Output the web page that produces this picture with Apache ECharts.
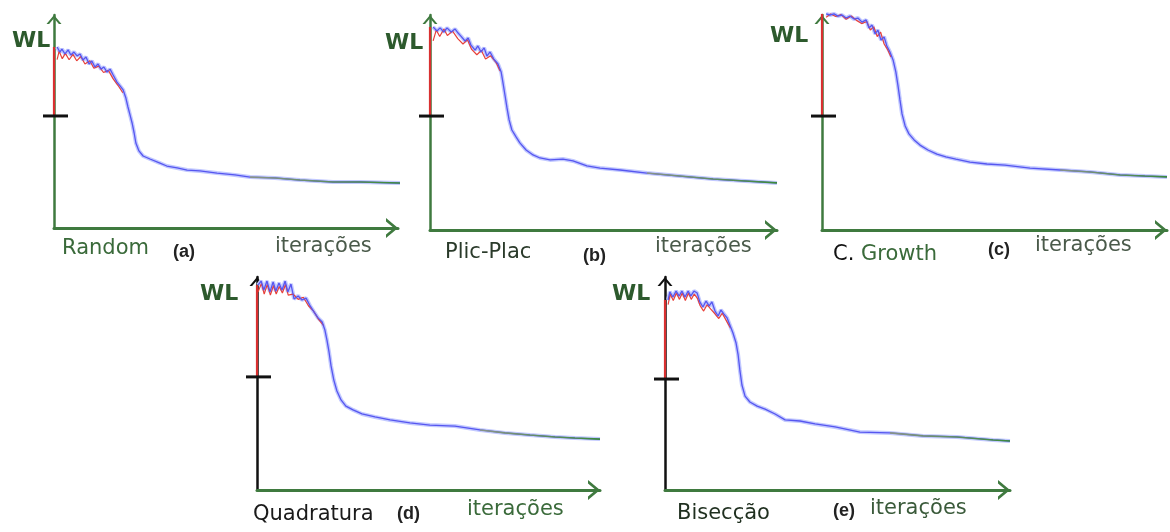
<!DOCTYPE html>
<html>
<head>
<meta charset="utf-8">
<script src="https://cdn.jsdelivr.net/npm/echarts@6/dist/echarts.min.js"></script>
<style>
html, body { margin: 0; background: #fff; }
#chart { width: 1170px; height: 532px; }
</style>
</head>
<body>
<div id="chart"></div>
<script>
// WL curves, x = iterations (0-100), y = WL (0-100)
var curveA = [[0.9,85.0],[1.7,82.6],[2.3,84.0],[3.2,81.7],[4.1,83.6],[4.9,81.2],[5.8,82.6],[6.7,80.8],[7.6,81.7],[8.4,78.9],[9.3,80.3],[10.2,77.0],[11.0,78.4],[11.9,75.6],[12.8,77.0],[13.7,74.6],[14.5,75.6],[15.4,73.2],[16.3,74.6],[17.2,71.8],[18.3,68.5],[19.2,66.7],[20.1,64.8],[20.9,61.0],[21.5,56.8],[22.1,53.1],[22.7,49.3],[23.3,44.6],[23.8,39.9],[24.7,36.2],[25.9,33.8],[27.9,32.4],[30.8,30.5],[32.8,29.1],[35.8,28.2],[38.7,27.2],[42.4,26.8],[47.4,25.8],[52.6,24.9],[57.0,23.9],[64.2,23.5],[71.5,22.5],[81.1,21.6],[89.0,21.6],[100.6,21.1]];
var curveB = [[0.9,94.4],[2.0,92.6],[2.9,94.0],[4.0,92.1],[4.9,94.0],[6.1,92.1],[7.2,93.5],[8.1,91.6],[8.9,90.2],[10.1,87.9],[11.0,89.3],[11.8,86.0],[13.0,83.7],[13.8,85.6],[14.7,82.8],[15.6,84.7],[16.4,80.9],[17.3,82.8],[18.4,79.5],[19.6,77.2],[20.5,73.5],[21.0,68.8],[21.6,62.8],[22.2,56.7],[22.8,51.2],[23.6,46.5],[24.8,43.3],[25.9,40.5],[27.7,37.2],[29.7,34.9],[31.7,33.5],[34.6,32.6],[38.3,33.0],[41.2,32.1],[45.2,29.8],[49.0,28.8],[54.8,27.9],[62.5,26.5],[72.0,25.1],[81.6,23.7],[90.8,22.8],[100.0,21.9]];
var curveC = [[1.2,100.5],[2.3,100.0],[3.5,100.5],[4.6,99.5],[5.8,100.0],[7.0,98.6],[8.1,99.5],[9.3,98.1],[10.4,98.6],[11.6,96.7],[12.8,97.7],[13.6,94.0],[14.5,95.3],[15.4,91.2],[16.2,93.0],[17.1,88.4],[18.0,89.8],[18.8,85.6],[19.7,82.8],[20.6,79.1],[21.4,73.5],[22.0,67.4],[22.6,60.5],[23.2,54.0],[24.1,48.4],[25.2,44.7],[26.7,41.9],[28.4,39.5],[30.7,37.2],[33.3,35.3],[35.9,34.0],[38.8,33.0],[42.9,31.6],[47.8,30.7],[53.0,30.2],[60.3,28.8],[69.0,27.9],[77.7,27.0],[86.4,25.6],[93.6,25.1],[100.0,24.7]];
var curveD = [[0.3,96.2],[1.2,98.1],[2.0,93.9],[2.9,98.1],[3.8,93.0],[4.7,97.7],[5.5,93.4],[6.4,97.2],[7.3,93.9],[8.2,98.1],[9.0,93.0],[9.9,96.7],[10.8,89.7],[12.0,91.1],[13.1,89.2],[14.3,90.1],[15.5,86.4],[16.6,83.6],[17.8,80.8],[19.0,78.9],[19.8,75.1],[20.4,70.4],[21.0,64.8],[21.6,58.2],[22.4,51.6],[23.3,46.5],[24.5,42.3],[25.9,39.4],[28.0,37.6],[30.6,35.7],[34.4,34.3],[38.8,32.9],[44.6,31.5],[50.4,30.5],[57.7,30.0],[65.0,28.2],[72.3,26.8],[79.6,25.8],[86.9,24.9],[92.7,24.4],[100.0,23.9]];
var curveE = [[0.9,89.2],[1.4,93.0],[2.3,90.6],[3.2,93.4],[4.1,91.1],[4.9,93.4],[5.8,90.6],[6.7,93.4],[7.5,91.1],[8.4,93.4],[9.3,92.5],[10.1,88.3],[11.0,85.9],[11.9,88.7],[12.8,86.4],[13.6,88.3],[14.5,84.0],[15.4,81.7],[16.2,84.5],[17.1,82.6],[18.0,80.8],[18.8,77.5],[19.7,73.7],[20.6,69.0],[21.2,63.4],[21.7,56.3],[22.3,49.3],[23.2,44.1],[24.6,41.3],[26.7,39.4],[29.0,38.0],[31.9,35.7],[34.8,32.9],[39.1,32.4],[43.5,31.0],[49.3,29.6],[56.5,27.2],[65.2,26.8],[74.8,25.4],[84.6,24.9],[95.1,23.5],[100.0,23.0]];

// red runs seen under the blue trace in the noisy start
var noiseA = [[0.9,79],[1.5,83],[2.4,79.5],[3.3,82],[4.4,79],[5.5,81.5],[6.6,78.5],[7.8,80.5],[9,77],[10.4,78.5],[11.6,75],[13,76],[14.4,73],[15.8,74],[17.2,70],[18.6,67],[20,63.5]];
var noiseB = [[0.9,88],[1.8,93],[2.8,90],[4,93.5],[5,90.5],[6.5,92.5],[8,89],[9.5,86.5],[10.8,88.5],[12,84],[13.5,81.5],[14.8,83.5],[16,79.5],[17.5,81],[19,78],[20.2,74]];
var noiseC = [[1.2,99],[2.5,100.5],[4,99.3],[5.5,100.2],[7,98],[8.5,99.5],[10,97.5],[11.5,96],[13,97],[14,93],[15,94.5],[16,90],[17,92],[18,86.5],[19,84],[20,80.5]];
var noiseD = [[0.3,93],[1.3,97],[2.1,92],[3,96.5],[3.9,91.5],[4.8,96],[5.6,92],[6.5,95.5],[7.4,92.5],[8.3,96.5],[9.1,91.5],[10.5,92],[12,89.5],[13.5,90.5],[15,86.5],[16.5,84],[18,80],[19.5,77]];
var noiseE = [[0.9,87],[1.5,92],[2.4,89],[3.3,92.5],[4.2,89.5],[5,92.5],[5.9,89],[6.8,92.5],[7.6,89.5],[8.5,92],[9.4,90],[10.2,86.5],[11.2,84],[12.2,87],[13.2,85],[14.6,82.5],[15.6,80.5],[16.6,83],[17.6,80],[19,76]];

var tickWL = [52.6, 53.0, 53.0, 53.1, 52.1];
var panelNames = ['Random', 'Plic-Plac', 'C. Growth', 'Quadratura', 'Bisecção'];
var panelTags = ['(a)', '(b)', '(c)', '(d)', '(e)'];
var xTitle = 'iterações';
var yTitle = 'WL';

var curves = [curveA, curveB, curveC, curveD, curveE];
var noises = [noiseA, noiseB, noiseC, noiseD, noiseE];
var tailFrom = [55, 60, 65, 62, 60];

var boxes = [
    { left: 54, top: 15, width: 344, height: 213 },
    { left: 430, top: 15, width: 347, height: 215 },
    { left: 822, top: 15, width: 345, height: 215 },
    { left: 257, top: 277, width: 343, height: 213 },
    { left: 665, top: 277, width: 345, height: 213 }
];
var yAxisColor = ['#3f7a3f', '#3f7a3f', '#3f7a3f', '#111111', '#111111'];
var wlPos = [[12, 41], [385, 43], [770, 36], [200, 294], [612, 294]];
var namePos = [[62, 249], [445, 253], [833, 255], [253, 515], [677, 514]];
var namePaint = ['#3a6a3a', '#2a3a2a', '#3a6a3a', '#1a1a1a', '#1f2f1f'];
var tagPos = [[173, 252], [583, 256], [988, 250], [397, 514], [833, 511]];
var iterPos = [[275, 247], [655, 247], [1035, 246], [467, 510], [870, 509]];
var iterPaint = ['#4a5a4a', '#4a5a4a', '#4a5a4a', '#3a6a3a', '#3a5a3a'];

var chevron = 'path://M0,12 L10,0 L20,12 L16.5,12 L10,4.2 L3.5,12 Z';

var chart = echarts.init(document.getElementById('chart'));

var grids = [], xAxes = [], yAxes = [], series = [], texts = [];

// short black mark across the WL axis, drawn from its value through the axis scale
function renderTick(params, api) {
    var p = api.coord([api.value(0), api.value(1)]);
    return {
        type: 'line',
        shape: { x1: p[0] - 11, y1: p[1], x2: p[0] + 14, y2: p[1] },
        style: { stroke: '#111', lineWidth: 3 }
    };
}

boxes.forEach(function (b, i) {
    grids.push(b);
    xAxes.push({
        type: 'value', gridIndex: i, min: 0, max: 100,
        axisLine: { show: true, symbol: ['none', chevron], symbolSize: [20, 12], symbolOffset: [0, -6],
            lineStyle: { color: '#3f7a3f', width: 3 } },
        axisTick: { show: false }, axisLabel: { show: false }, splitLine: { show: false }
    });
    yAxes.push({
        type: 'value', gridIndex: i, min: 0, max: 100,
        axisLine: { show: true, symbol: ['none', chevron], symbolSize: [15, 9], symbolOffset: [0, -4.5],
            lineStyle: { color: yAxisColor[i], width: 2.5 } },
        axisTick: { show: false }, axisLabel: { show: false }, splitLine: { show: false }
    });

    var c = curves[i];
    var tail = c.filter(function (p) { return p[0] >= tailFrom[i]; });
    var base = { type: 'line', xAxisIndex: i, yAxisIndex: i, showSymbol: false, clip: false, silent: true };

    series.push(Object.assign({}, base, { data: c, z: 1, lineStyle: { color: '#c2c9ff', width: 4 } }));
    series.push(Object.assign({}, base, { data: noises[i], z: 2, lineStyle: { color: '#e8413a', width: 1.2 } }));
    series.push(Object.assign({}, base, { data: c, z: 3, lineStyle: { color: '#5656f0', width: 1.3 } }));
    series.push(Object.assign({}, base, { data: tail, z: 4, lineStyle: { width: 1.6,
        color: new echarts.graphic.LinearGradient(0, 0, 1, 0, [{ offset: 0, color: '#8a948a' }, { offset: 1, color: '#3a8a3a' }]) } }));
    series.push(Object.assign({}, base, { data: [[0, tickWL[i]], [0, c[0][1]]], z: 5, lineStyle: { color: '#d93030', width: 2.2 } }));
    series.push({ type: 'custom', xAxisIndex: i, yAxisIndex: i, silent: true, clip: false, z: 6,
        data: [[0, tickWL[i]]], renderItem: renderTick });

    texts.push({ type: 'text', x: wlPos[i][0], y: wlPos[i][1],
        style: { text: yTitle, fill: '#2d5a2d', font: 'bold 22px "DejaVu Sans"', verticalAlign: 'middle' } });

    var nm = panelNames[i];
    var nameStyle = { text: nm, fill: namePaint[i], font: '21px "DejaVu Sans"', verticalAlign: 'middle' };
    if (i === 2) {
        var parts = nm.split(' ');
        nameStyle.text = '{k|' + parts[0] + '} {g|' + parts[1] + '}';
        nameStyle.rich = {
            k: { fill: '#111', font: '21px "DejaVu Sans"' },
            g: { fill: '#3a6a3a', font: '21px "DejaVu Sans"' }
        };
    }
    texts.push({ type: 'text', x: namePos[i][0], y: namePos[i][1], style: nameStyle });
    texts.push({ type: 'text', x: tagPos[i][0], y: tagPos[i][1],
        style: { text: panelTags[i], fill: '#222', font: 'bold 18px "Liberation Sans"', verticalAlign: 'middle' } });
    texts.push({ type: 'text', x: iterPos[i][0], y: iterPos[i][1],
        style: { text: xTitle, fill: iterPaint[i], font: '21px "DejaVu Sans"', verticalAlign: 'middle' } });
});

chart.setOption({
    backgroundColor: '#ffffff',
    animation: false,
    grid: grids,
    xAxis: xAxes,
    yAxis: yAxes,
    series: series,
    graphic: texts
});

window.onresize = chart.resize;
</script>
</body>
</html>
